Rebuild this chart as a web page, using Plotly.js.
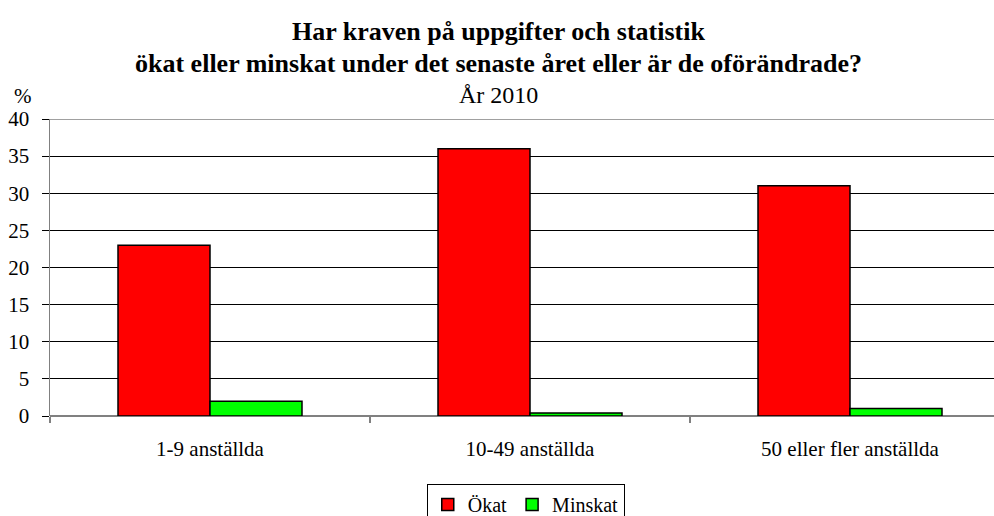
<!DOCTYPE html>
<html><head><meta charset="utf-8">
<script src="https://cdn.plot.ly/plotly-3.0.1.min.js"></script>
<style>body{margin:0;padding:0;background:#fff}#chart{width:994px;height:516px}</style>
</head><body><div id="chart"></div>
<script>
var categories = ["1-9 anställda", "10-49 anställda", "50 eller fler anställda"];
var okat = [23, 36, 31];
var minskat = [2, 0.4, 1];
var seriesNames = ["Ökat", "Minskat"];
var yTicks = [0, 5, 10, 15, 20, 25, 30, 35, 40];
var titleLines = ["Har kraven på uppgifter och statistik",
                  "ökat eller minskat under det senaste året eller är de oförändrade?",
                  "År 2010"];
var unitLabel = "%";

var font = "'Liberation Serif', 'Times New Roman', Times, serif";
var traces = [
  {type: "bar", name: seriesNames[0], x: categories, y: okat,
   marker: {color: "#FF0000", line: {color: "#000", width: 1.5}}},
  {type: "bar", name: seriesNames[1], x: categories, y: minskat,
   marker: {color: "#00FF00", line: {color: "#000", width: 1.5}}}
];
var titleX = (498 - 50) / 944;
var layout = {
  width: 994, height: 516,
  margin: {l: 50, r: 0, t: 119, b: 100, autoexpand: false},
  paper_bgcolor: "#fff", plot_bgcolor: "#fff",
  font: {family: font, size: 21, color: "#000"},
  barmode: "group", bargap: 0.425, bargroupgap: 0,
  xaxis: {
    type: "category", range: [-0.5, 2.45],
    tickson: "boundaries", ticks: "outside", ticklen: 6, tickcolor: "#808080", tickwidth: 1.5,
    showgrid: false, showline: false, zeroline: false,
    tickfont: {family: font, size: 21, color: "#000"},
    ticklabelstandoff: 18, fixedrange: true
  },
  yaxis: {
    range: [0, 40], tickvals: yTicks, ticktext: yTicks.map(String),
    showgrid: true, gridcolor: "#000", gridwidth: 1,
    zeroline: true, zerolinecolor: "#808080", zerolinewidth: 1.5,
    showline: true, linecolor: "#808080", linewidth: 1.5,
    ticks: "outside", ticklen: 7, tickcolor: "#000",
    ticklabelstandoff: 8,
    tickfont: {family: font, size: 21, color: "#000"}
  },
  shapes: [
    {type: "line", xref: "paper", yref: "y", x0: 0, x1: 1, y0: 40, y1: 40,
     line: {color: "#808080", width: 1.5}, layer: "above"}
  ],
  showlegend: true,
  legend: {
    orientation: "h", x: 0.504, xanchor: "center", y: -0.229, yanchor: "top",
    bordercolor: "#000", borderwidth: 1, bgcolor: "#fff",
    font: {family: font, size: 20, color: "#000"},
    itemwidth: 30, tracegroupgap: 0
  },
  annotations: [
    {text: "<b>" + titleLines[0] + "</b>", xref: "paper", yref: "paper", x: titleX, y: 1.293,
     xanchor: "center", yanchor: "middle", showarrow: false,
     font: {family: font, size: 26, color: "#000"}},
    {text: "<b>" + titleLines[1] + "</b>", xref: "paper", yref: "paper", x: titleX, y: 1.1852,
     xanchor: "center", yanchor: "middle", showarrow: false,
     font: {family: font, size: 26, color: "#000"}},
    {text: titleLines[2], xref: "paper", yref: "paper", x: titleX, y: 1.0822,
     xanchor: "center", yanchor: "middle", showarrow: false,
     font: {family: font, size: 24, color: "#000"}},
    {text: unitLabel, xref: "paper", yref: "paper", x: -0.0403, y: 1.0774,
     xanchor: "left", yanchor: "middle", showarrow: false,
     font: {family: font, size: 21, color: "#000"}}
  ]
};
Plotly.newPlot("chart", traces, layout, {displayModeBar: false, staticPlot: true});
</script></body></html>
